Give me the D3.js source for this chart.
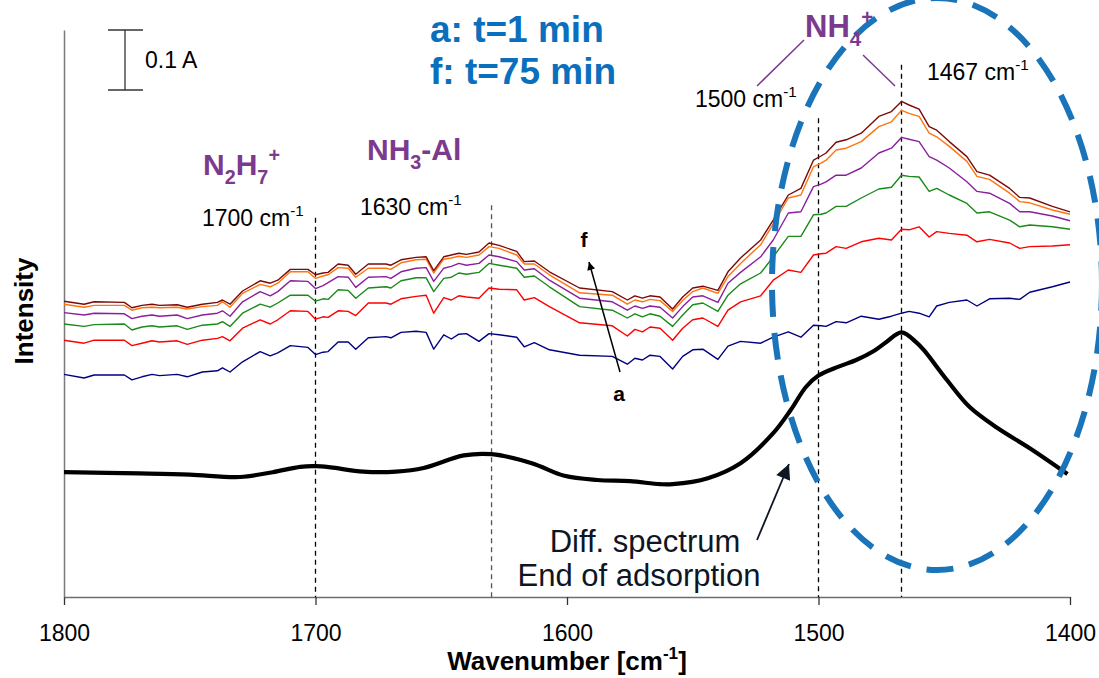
<!DOCTYPE html>
<html>
<head>
<meta charset="utf-8">
<script src="https://cdn.jsdelivr.net/npm/d3@7"></script>
<style>
  body { margin: 0; background: #fff; }
  svg { display: block; font-family: Arial, "Liberation Sans", sans-serif; }
</style>
</head>
<body>
<svg id="chart"></svg>
<script>
// wavenumber grid of the six time-resolved spectra (cm-1)
const wavenumbers = [
  1800, 1792, 1788, 1776, 1773, 1769, 1765, 1762, 1755, 1751, 1745, 1739, 1737, 1734, 1729,
  1722, 1718, 1715, 1710, 1703, 1700, 1697, 1695, 1691, 1687, 1684, 1679, 1672, 1670,
  1666, 1660, 1656, 1653, 1649, 1646, 1643, 1640, 1635, 1631, 1627, 1620, 1617, 1613, 1607,
  1595, 1582, 1576, 1573, 1570, 1567, 1563, 1558, 1554, 1550, 1546,
  1540, 1536, 1531, 1523, 1518, 1512, 1507, 1502, 1499, 1497, 1493, 1489, 1483, 1476, 1471,
  1467, 1464, 1460, 1456, 1453, 1448, 1441, 1437, 1432, 1424, 1420, 1416, 1407, 1400
];

// absorbance (A), a = t=1 min ... f = t=75 min
const spectrumA = [
  0.371, 0.365, 0.370, 0.370, 0.362, 0.367, 0.371, 0.369, 0.371, 0.367, 0.375, 0.377, 0.382, 0.375, 0.392,
  0.409, 0.402, 0.407, 0.419, 0.416, 0.404, 0.408, 0.409, 0.425, 0.425, 0.413, 0.432, 0.434, 0.432,
  0.441, 0.443, 0.441, 0.413, 0.437, 0.430, 0.438, 0.439, 0.426, 0.439, 0.437, 0.433, 0.417, 0.424, 0.412,
  0.403, 0.401, 0.388, 0.398, 0.395, 0.403, 0.401, 0.380, 0.401, 0.412, 0.413,
  0.396, 0.418, 0.426, 0.423, 0.433, 0.442, 0.433, 0.453, 0.452, 0.451, 0.459, 0.457, 0.468, 0.463, 0.468,
  0.473, 0.476, 0.473, 0.467, 0.485, 0.491, 0.495, 0.485, 0.497, 0.498, 0.496, 0.508, 0.517, 0.525
];
const spectrumB = [
  0.428, 0.423, 0.428, 0.428, 0.419, 0.423, 0.427, 0.425, 0.427, 0.421, 0.428, 0.431, 0.434, 0.427, 0.448,
  0.462, 0.455, 0.462, 0.477, 0.476, 0.463, 0.467, 0.466, 0.477, 0.476, 0.469, 0.490, 0.490, 0.488,
  0.497, 0.501, 0.503, 0.473, 0.499, 0.495, 0.502, 0.500, 0.498, 0.515, 0.513, 0.512, 0.495, 0.499, 0.484,
  0.457, 0.452, 0.435, 0.446, 0.442, 0.450, 0.448, 0.428, 0.448, 0.462, 0.465,
  0.451, 0.478, 0.492, 0.502, 0.528, 0.545, 0.541, 0.570, 0.572, 0.573, 0.584, 0.581, 0.592, 0.598, 0.595,
  0.613, 0.612, 0.617, 0.600, 0.609, 0.606, 0.603, 0.592, 0.596, 0.590, 0.581, 0.584, 0.585, 0.587
];
const spectrumC = [
  0.455, 0.451, 0.454, 0.455, 0.445, 0.450, 0.452, 0.450, 0.452, 0.446, 0.453, 0.455, 0.459, 0.451, 0.473,
  0.488, 0.483, 0.490, 0.503, 0.503, 0.493, 0.497, 0.496, 0.512, 0.511, 0.498, 0.515, 0.517, 0.515,
  0.527, 0.532, 0.532, 0.509, 0.531, 0.533, 0.540, 0.538, 0.541, 0.556, 0.553, 0.548, 0.533, 0.535, 0.517,
  0.484, 0.478, 0.465, 0.472, 0.467, 0.472, 0.468, 0.451, 0.470, 0.487, 0.490,
  0.476, 0.503, 0.522, 0.540, 0.567, 0.601, 0.601, 0.637, 0.638, 0.640, 0.651, 0.651, 0.665, 0.680, 0.683,
  0.703, 0.701, 0.700, 0.676, 0.681, 0.670, 0.656, 0.640, 0.642, 0.628, 0.617, 0.620, 0.617, 0.613
];
const spectrumD = [
  0.474, 0.470, 0.473, 0.472, 0.464, 0.468, 0.470, 0.468, 0.470, 0.464, 0.470, 0.473, 0.477, 0.468, 0.492,
  0.509, 0.502, 0.509, 0.527, 0.526, 0.514, 0.519, 0.524, 0.534, 0.533, 0.516, 0.533, 0.534, 0.531,
  0.542, 0.548, 0.549, 0.526, 0.548, 0.551, 0.556, 0.553, 0.556, 0.570, 0.567, 0.559, 0.545, 0.547, 0.528,
  0.498, 0.492, 0.478, 0.485, 0.481, 0.485, 0.483, 0.465, 0.484, 0.500, 0.502,
  0.491, 0.523, 0.541, 0.567, 0.595, 0.640, 0.642, 0.684, 0.688, 0.692, 0.703, 0.703, 0.715, 0.740, 0.748,
  0.766, 0.763, 0.759, 0.734, 0.728, 0.715, 0.692, 0.676, 0.673, 0.656, 0.642, 0.642, 0.635, 0.627
];
const spectrumE = [
  0.488, 0.483, 0.486, 0.486, 0.478, 0.482, 0.483, 0.482, 0.483, 0.480, 0.484, 0.486, 0.492, 0.483, 0.506,
  0.521, 0.517, 0.523, 0.542, 0.542, 0.531, 0.535, 0.537, 0.549, 0.548, 0.533, 0.548, 0.548, 0.546,
  0.557, 0.562, 0.563, 0.540, 0.563, 0.565, 0.568, 0.566, 0.570, 0.584, 0.581, 0.570, 0.555, 0.555, 0.537,
  0.507, 0.503, 0.488, 0.495, 0.492, 0.496, 0.494, 0.476, 0.494, 0.509, 0.515,
  0.506, 0.534, 0.556, 0.587, 0.622, 0.665, 0.670, 0.717, 0.723, 0.728, 0.745, 0.748, 0.759, 0.784, 0.792,
  0.811, 0.806, 0.801, 0.773, 0.767, 0.751, 0.726, 0.701, 0.696, 0.673, 0.659, 0.657, 0.645, 0.638
];
const spectrumF = [
  0.493, 0.488, 0.492, 0.491, 0.482, 0.486, 0.488, 0.486, 0.487, 0.483, 0.488, 0.491, 0.495, 0.488, 0.510,
  0.527, 0.523, 0.528, 0.546, 0.546, 0.537, 0.540, 0.541, 0.555, 0.553, 0.538, 0.555, 0.555, 0.553,
  0.562, 0.566, 0.567, 0.544, 0.567, 0.570, 0.573, 0.571, 0.575, 0.590, 0.586, 0.576, 0.559, 0.560, 0.542,
  0.515, 0.509, 0.495, 0.502, 0.498, 0.502, 0.500, 0.480, 0.500, 0.515, 0.518,
  0.511, 0.542, 0.565, 0.595, 0.628, 0.670, 0.681, 0.728, 0.735, 0.740, 0.758, 0.762, 0.773, 0.801, 0.809,
  0.826, 0.820, 0.813, 0.784, 0.778, 0.759, 0.734, 0.709, 0.703, 0.681, 0.666, 0.665, 0.651, 0.642
];

// difference spectrum, end of adsorption
const diffWavenumbers = [
  1800, 1770, 1750, 1730, 1717, 1706, 1700, 1694, 1681, 1668, 1657, 1641, 1630, 1614, 1601, 1588, 1575, 1563,
  1558, 1544, 1531, 1518, 1511, 1505, 1500, 1492, 1485, 1478, 1473, 1467, 1461, 1458, 1449, 1440, 1429, 1416, 1401
];
const diffSpectrum = [
  0.208, 0.206, 0.204, 0.200, 0.208, 0.217, 0.218, 0.216, 0.209, 0.209, 0.215, 0.236, 0.238, 0.223, 0.202, 0.195, 0.193, 0.188,
  0.188, 0.198, 0.223, 0.273, 0.312, 0.350, 0.369, 0.384, 0.395, 0.410, 0.425, 0.441, 0.424, 0.411, 0.362, 0.317, 0.282, 0.248, 0.205
];

const xTicks = [1800, 1700, 1600, 1500, 1400];
const bandPositions = [1700, 1630, 1500, 1467];
const bandTops = [0.632, 0.653, 0.798, 0.887];

const spectra = [spectrumA, spectrumB, spectrumC, spectrumD, spectrumE, spectrumF];
const spectrumColors = ['#000080', '#ff0000', '#1a8a1a', '#8a1f9e', '#ff7410', '#7a0a0a'];

const width = 1099, height = 678;
const margin = {top: 30, right: 29, bottom: 81, left: 64};
const purple = '#7b3a8e';

const svg = d3.select('#chart')
    .attr('width', width)
    .attr('height', height);

svg.append('rect').attr('width', width).attr('height', height).attr('fill', '#fff');

const x = d3.scaleLinear()
    .domain([1800, 1400])
    .range([margin.left, width - margin.right]);

const y = d3.scaleLinear()
    .domain([0, 0.945])
    .range([height - margin.bottom, margin.top]);

const defs = svg.append('defs');
defs.append('marker')
    .attr('id', 'headBig')
    .attr('viewBox', '0 0 10 10')
    .attr('refX', 10).attr('refY', 5)
    .attr('markerUnits', 'userSpaceOnUse')
    .attr('markerWidth', 19).attr('markerHeight', 15)
    .attr('orient', 'auto')
  .append('path').attr('d', 'M0,0L10,5L0,10z').attr('fill', '#0f1623');
defs.append('marker')
    .attr('id', 'headSmall')
    .attr('viewBox', '0 0 10 10')
    .attr('refX', 10).attr('refY', 5)
    .attr('markerUnits', 'userSpaceOnUse')
    .attr('markerWidth', 11).attr('markerHeight', 8)
    .attr('orient', 'auto')
  .append('path').attr('d', 'M0,0L10,5L0,10z').attr('fill', '#000');

// axes
const xAxis = d3.axisBottom(x)
    .tickValues(xTicks)
    .tickSize(8)
    .tickSizeOuter(0)
    .tickPadding(20)
    .tickFormat(d3.format('d'));

const xAxisG = svg.append('g')
    .attr('transform', `translate(0,${y(0)})`)
    .call(xAxis);
xAxisG.select('.domain').attr('stroke', '#6e6e6e').attr('stroke-width', 1.5);
xAxisG.selectAll('.tick line').attr('stroke', '#333').attr('stroke-width', 1.3);
xAxisG.selectAll('.tick text')
    .attr('font-size', 23)
    .attr('font-family', 'Arial, "Liberation Sans", sans-serif')
    .attr('fill', '#000');

const yAxisG = svg.append('g')
    .attr('transform', `translate(${x(1800)},0)`)
    .call(d3.axisLeft(y).tickValues([]).tickSizeOuter(0));
yAxisG.select('.domain').attr('stroke', '#7a7a7a').attr('stroke-width', 1.5);

// band position guides
svg.selectAll('.band')
    .data(bandPositions)
  .join('line')
    .attr('class', 'band')
    .attr('x1', d => x(d)).attr('x2', d => x(d))
    .attr('y1', (d, i) => y(bandTops[i])).attr('y2', y(0))
    .attr('stroke', d => d === 1630 ? '#555' : '#000')
    .attr('stroke-width', 1.3)
    .attr('stroke-dasharray', '5,4');

// spectra a..f
const line = d3.line()
    .x(d => x(d[0]))
    .y(d => y(d[1]));

svg.selectAll('.spectrum')
    .data(spectra)
  .join('path')
    .attr('class', 'spectrum')
    .attr('d', s => line(wavenumbers.map((w, i) => [w, s[i]])))
    .attr('fill', 'none')
    .attr('stroke', (s, i) => spectrumColors[i])
    .attr('stroke-width', 1.4)
    .attr('stroke-linejoin', 'round');

// difference spectrum
svg.append('path')
    .attr('d', line.curve(d3.curveCatmullRom)(diffWavenumbers.map((w, i) => [w, diffSpectrum[i]])))
    .attr('fill', 'none')
    .attr('stroke', '#000')
    .attr('stroke-width', 4.2)
    .attr('stroke-linejoin', 'round');

// NH4+ region highlight
svg.append('ellipse')
    .attr('cx', 937).attr('cy', 284)
    .attr('rx', 165).attr('ry', 286)
    .attr('fill', 'none')
    .attr('stroke', '#1a74ba')
    .attr('stroke-width', 6)
    .attr('stroke-dasharray', '27,16');

// scale bar
const bar = svg.append('g').attr('stroke', '#333').attr('stroke-width', 1.3);
bar.append('line').attr('x1', 125).attr('x2', 125).attr('y1', y(0.945)).attr('y2', y(0.845));
bar.append('line').attr('x1', 108).attr('x2', 143).attr('y1', y(0.945)).attr('y2', y(0.945));
bar.append('line').attr('x1', 108).attr('x2', 143).attr('y1', y(0.845)).attr('y2', y(0.845));
svg.append('text').attr('x', 145).attr('y', 68).attr('font-size', 23).text('0.1 A');

// text with sub/superscripts
function richText(parent, px, py, parts, size, attrs) {
  const t = parent.append('text').attr('x', px).attr('y', py).attr('font-size', size);
  Object.entries(attrs || {}).forEach(([k, v]) => t.attr(k, v));
  let shift = 0;
  parts.forEach(p => {
    const target = p.sub ? size * 0.3 : p.sup ? -size * 0.42 : 0;
    t.append('tspan')
        .attr('dy', target - shift)
        .attr('font-size', (p.sub || p.sup) ? size * 0.66 : size)
        .text(p.t);
    shift = target;
  });
  return t;
}

const bold = {'font-weight': 'bold', fill: purple};
richText(svg, 203, 175, [{t: 'N'}, {t: '2', sub: true}, {t: 'H'}, {t: '7', sub: true}, {t: '+', sup: true}], 30, bold);
richText(svg, 367, 160, [{t: 'NH'}, {t: '3', sub: true}, {t: '-Al'}], 30, bold);
richText(svg, 805, 37, [{t: 'NH'}, {t: '4', sub: true}, {t: '+', sup: true}], 31, bold);

svg.append('line').attr('x1', 804).attr('y1', 40).attr('x2', 757).attr('y2', 86)
    .attr('stroke', purple).attr('stroke-width', 1.5);
svg.append('line').attr('x1', 863).attr('y1', 55).attr('x2', 895).attr('y2', 86)
    .attr('stroke', purple).attr('stroke-width', 1.5);

const bandLabels = [
  {text: '1700 cm', px: 202, py: 226},
  {text: '1630 cm', px: 360, py: 215},
  {text: '1500 cm', px: 695, py: 107},
  {text: '1467 cm', px: 927, py: 80}
];
bandLabels.forEach(b => richText(svg, b.px, b.py, [{t: b.text}, {t: '-1', sup: true}], 23));

svg.append('text')
    .attr('x', 430).attr('y', 42)
    .attr('font-size', 37).attr('font-weight', 'bold').attr('fill', '#0a6fbd')
    .text('a: t=1 min');
svg.append('text')
    .attr('x', 430).attr('y', 84)
    .attr('font-size', 37).attr('font-weight', 'bold').attr('fill', '#0a6fbd')
    .text('f: t=75 min');

// time arrow a -> f
svg.append('line')
    .attr('x1', 620).attr('y1', 372).attr('x2', 589).attr('y2', 262)
    .attr('stroke', '#000').attr('stroke-width', 1.5)
    .attr('marker-end', 'url(#headSmall)');
svg.append('text').attr('x', 584).attr('y', 247)
    .attr('font-size', 21).attr('font-weight', 'bold').attr('text-anchor', 'middle').text('f');
svg.append('text').attr('x', 619).attr('y', 401)
    .attr('font-size', 21).attr('font-weight', 'bold').attr('text-anchor', 'middle').text('a');

// diff spectrum callout
svg.append('line')
    .attr('x1', 757).attr('y1', 540).attr('x2', 789).attr('y2', 464)
    .attr('stroke', '#0f1623').attr('stroke-width', 1.8)
    .attr('marker-end', 'url(#headBig)');
svg.append('text').attr('x', 645).attr('y', 552)
    .attr('font-size', 31).attr('text-anchor', 'middle').attr('fill', '#0f1623')
    .text('Diff. spectrum');
svg.append('text').attr('x', 639).attr('y', 586)
    .attr('font-size', 31).attr('text-anchor', 'middle').attr('fill', '#0f1623')
    .text('End of adsorption');

// axis titles
richText(svg, 567, 670, [{t: 'Wavenumber [cm'}, {t: '-1', sup: true}, {t: ']'}], 26,
    {'font-weight': 'bold', 'text-anchor': 'middle'});
svg.append('text')
    .attr('transform', 'translate(33,311) rotate(-90)')
    .attr('font-size', 26).attr('font-weight', 'bold').attr('text-anchor', 'middle')
    .text('Intensity');
</script>
</body>
</html>
